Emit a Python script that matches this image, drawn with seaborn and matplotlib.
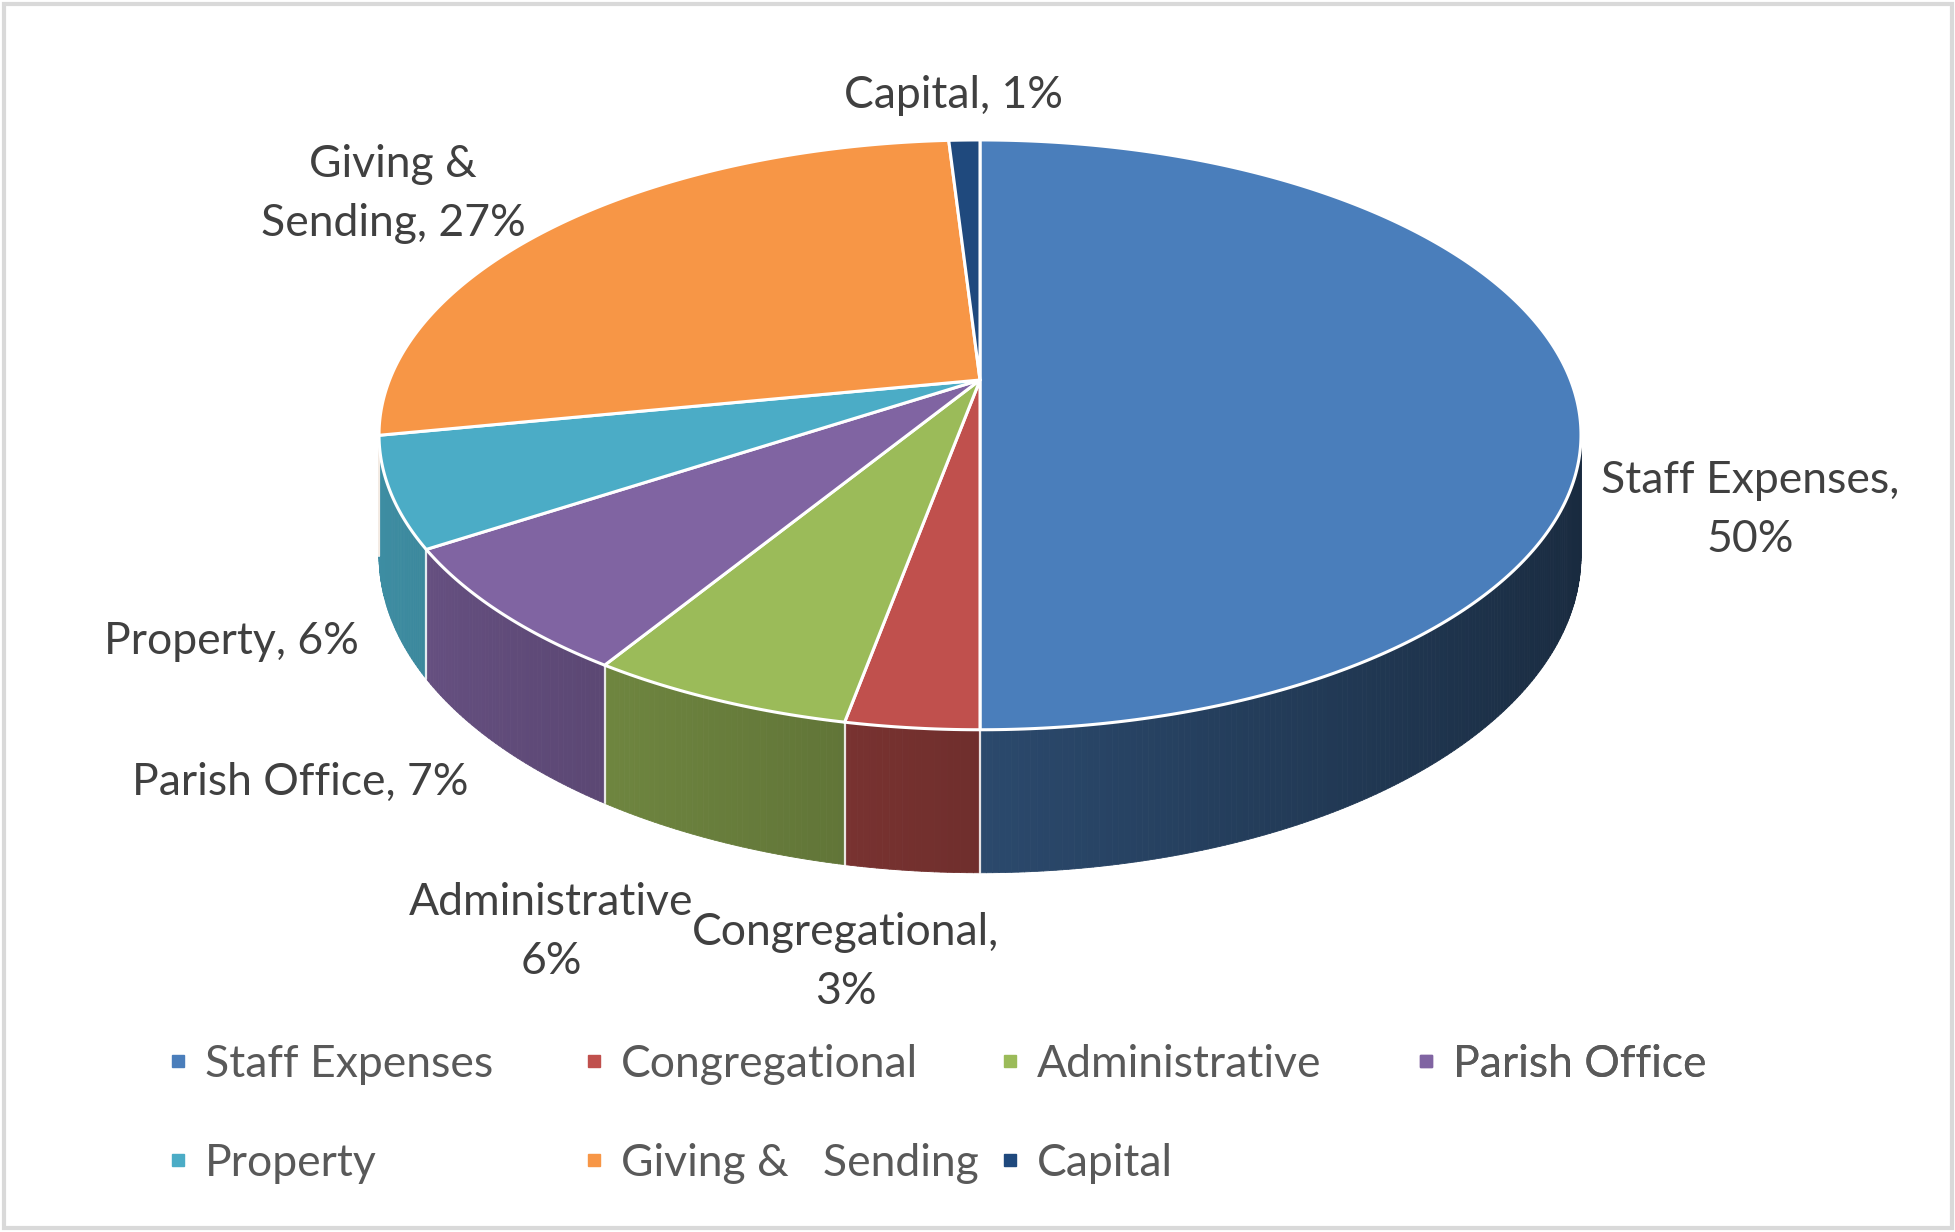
import numpy as np
import matplotlib
matplotlib.use("Agg")
import matplotlib.pyplot as plt
import seaborn as sns
from matplotlib.collections import PolyCollection
from matplotlib.lines import Line2D
from matplotlib.patches import Polygon, Rectangle

# ---------------- data ----------------
categories = ["Staff Expenses", "Congregational", "Administrative", "Parish Office",
              "Property", "Giving & Sending", "Capital"]
legend_labels = ["Staff Expenses", "Congregational", "Administrative", "Parish Office",
                 "Property", "Giving &   Sending", "Capital"]
values = [50, 3, 6, 7, 6, 27, 1]
data_labels = ["Staff Expenses,\n50%", "Congregational,\n3%", "Administrative\n6%",
               "Parish Office, 7%", "Property, 6%", "Giving &\nSending, 27%", "Capital, 1%"]
hex_colors = ["#4A7EBB", "#C0504D", "#9BBB59", "#8064A2", "#4BACC6", "#F79646", "#1F497D"]

# ---------------- style ----------------
sns.set_theme(style="white")
plt.rcParams['font.family'] = ['Lato', 'DejaVu Sans']
palette = sns.color_palette(hex_colors)

W, H = 1956, 1232
fig = plt.figure(figsize=(W / 100, H / 100), dpi=100)
ax = fig.add_axes([0, 0, 1, 1])
ax.set_xlim(0, W)
ax.set_ylim(H, 0)
ax.axis("off")

# perspective geometry of the 3-D pie (layout)
cx, cy = 980.0, 380.0
RA, RB, K, DEPTH = 590.5, 284.7, 0.186, 116.4


def proj(t):
    u, v = np.cos(t), np.sin(t)
    s = 1.0 / (1.0 + K * v)
    return cx + RA * u * s, cy - RB * v * s


def proj_bottom(t):
    x, y = proj(t)
    return x, y + DEPTH / (1.0 + K * np.sin(t))


vals = np.array(values, dtype=float)
frac = vals / vals.sum()
cum = np.concatenate([[0], np.cumsum(frac)])
t_start = np.radians(90 - 360 * cum[:-1])
t_end = np.radians(90 - 360 * cum[1:])

lo = -np.pi + np.arcsin(K)
hi = -np.arcsin(K)

# ---- side walls ----
quads, qcols = [], []
for i in range(len(values)):
    a0 = max(t_end[i], lo)
    a1 = min(t_start[i], hi)
    if a1 <= a0:
        continue
    n = max(2, int(np.degrees(a1 - a0) / 0.5) + 1)
    ts = np.linspace(a0, a1, n)
    base = np.array(palette[i])
    for j in range(n - 1):
        ta, tb = ts[j], ts[j + 1]
        xa, ya = proj(ta)
        xb, yb = proj(tb)
        xa2, ya2 = proj_bottom(ta)
        xb2, yb2 = proj_bottom(tb)
        quads.append([(xa, ya), (xb, yb), (xb2, yb2), (xa2, ya2)])
        tm = 0.5 * (ta + tb)
        f = 0.58 - 0.25 * np.cos(tm)
        qcols.append(tuple(np.clip(base * f, 0, 1)))
pc = PolyCollection(quads, facecolors=qcols, edgecolors=qcols, linewidths=0.6, zorder=1)
ax.add_collection(pc)

# wall boundary lines
for i in range(len(values)):
    t = t_end[i]
    if lo < t < hi:
        x1, y1 = proj(t)
        x2, y2 = proj_bottom(t)
        ax.plot([x1, x2], [y1, y2], color="white", lw=1.6, alpha=0.85, zorder=2)

# ---- top faces ----
for i in range(len(values)):
    n = max(3, int(abs(np.degrees(t_start[i] - t_end[i])) / 0.5) + 2)
    ts = np.linspace(t_start[i], t_end[i], n)
    pts = [(cx, cy)] + [proj(t) for t in ts]
    ax.add_patch(Polygon(pts, closed=True, facecolor=palette[i], edgecolor="white",
                         lw=2.2, joinstyle="round", zorder=3))

# ---- data labels (layout positions) ----
label_pos = {
    "Staff Expenses": (1750, 510),
    "Congregational": (846, 962),
    "Administrative": (551, 932),
    "Parish Office": (300, 782),
    "Property": (231, 641),
    "Giving & Sending": (393, 194),
    "Capital": (954, 95),
}
FS = 32
for name, txt in zip(categories, data_labels):
    x, y = label_pos[name]
    ax.text(x, y, txt, ha="center", va="center", multialignment="center",
            fontsize=FS, color="#404040", linespacing=1.55, zorder=5)

# ---- legend (four columns, rows as in the reference) ----
handles = [Line2D([], [], linestyle="none", marker="s", markersize=8.5,
                  markerfacecolor=palette[i], markeredgecolor=palette[i])
           for i in range(len(values))]
ncols = 4
col_x = [169, 585, 1001, 1417]
for c in range(ncols):
    idx = list(range(c, len(values), ncols))
    leg = ax.legend([handles[i] for i in idx], [legend_labels[i] for i in idx],
                    loc="upper left", bbox_to_anchor=(col_x[c], 1044),
                    bbox_transform=ax.transData, frameon=False, fontsize=FS,
                    handlelength=0.4, handletextpad=0.4, labelspacing=1.3,
                    borderpad=0, borderaxespad=0, labelcolor="#595959")
    ax.add_artist(leg)

# ---- outer border ----
ax.add_patch(Rectangle((4, 4), W - 8, H - 8, fill=False, edgecolor="#D9D9D9", lw=3, zorder=6))

fig.savefig("out.png", dpi=100)
